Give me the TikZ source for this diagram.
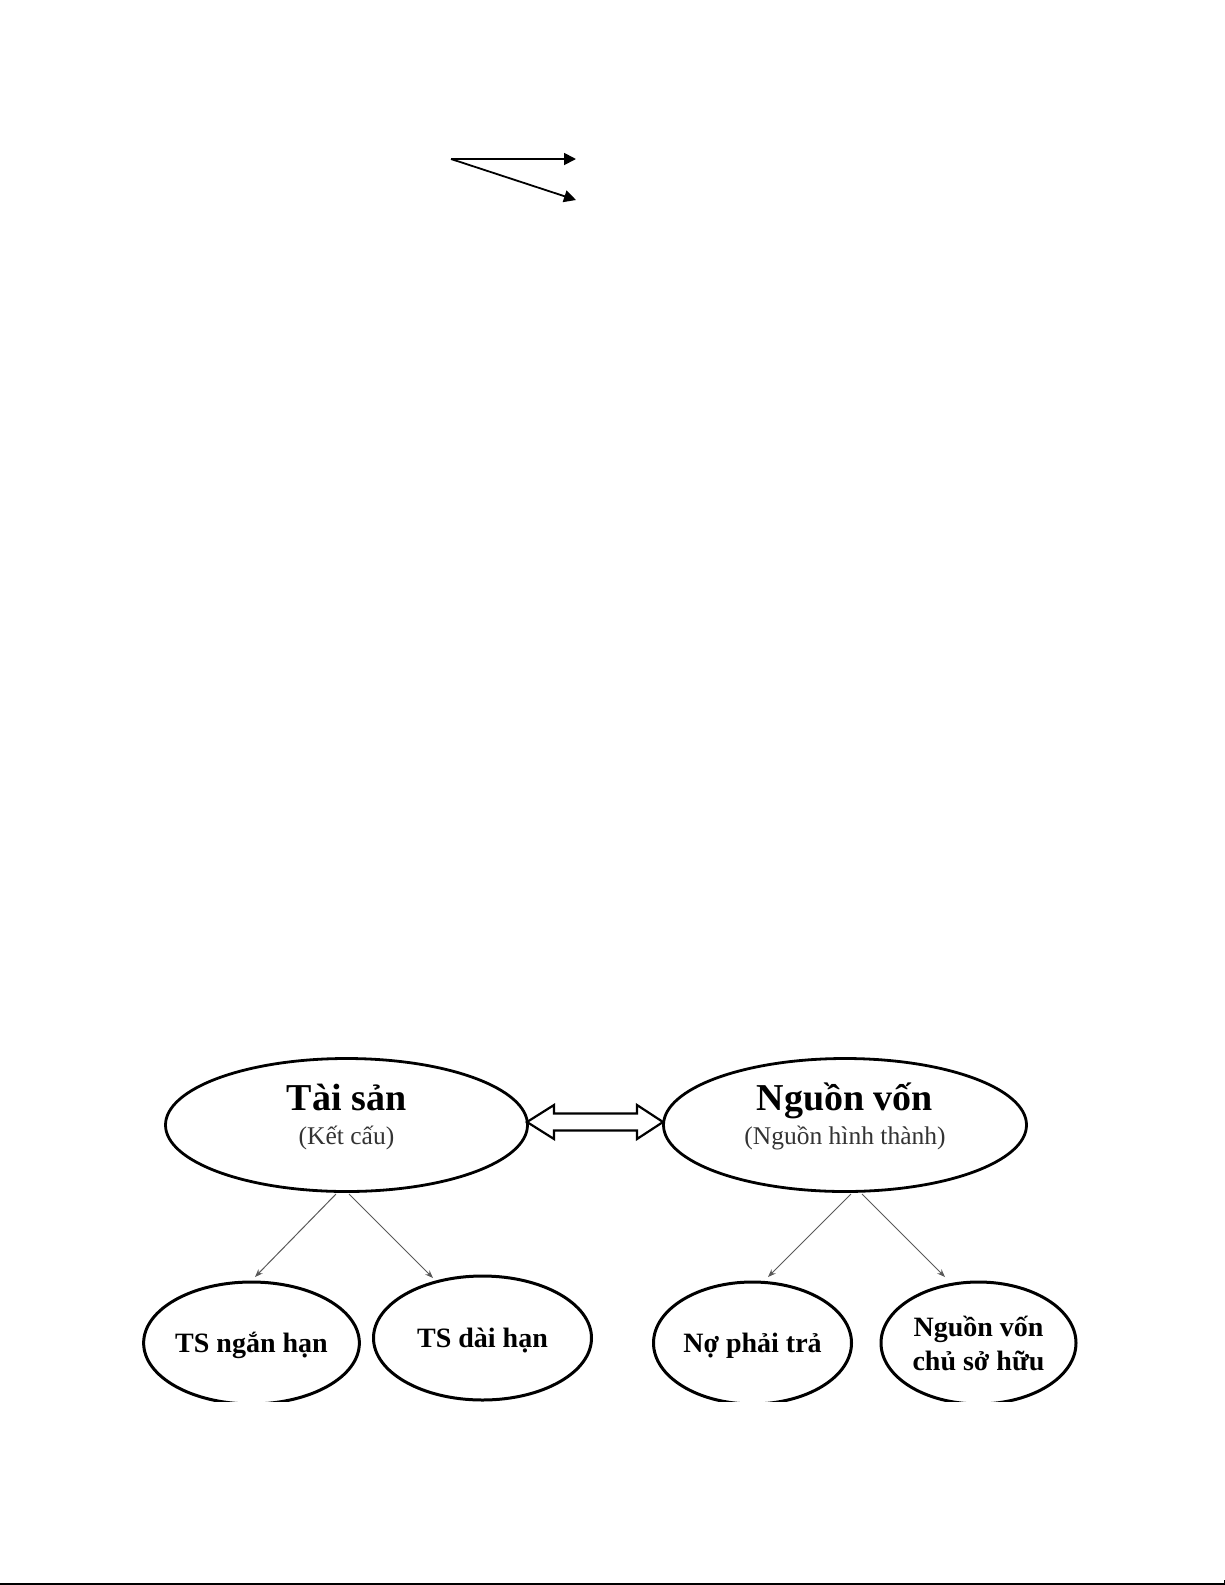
\documentclass[tikz,border=0pt]{standalone}
\usepackage{fontspec}
\setmainfont{Liberation Serif}
\usetikzlibrary{arrows.meta,shapes.geometric,calc}
\begin{document}
\begin{tikzpicture}[x=1pt,y=-1pt,
  bigell/.style={ellipse,draw,line width=2.8pt,inner sep=0pt,align=center,
    font=\fontsize{38}{34}\selectfont\bfseries,text height=45pt,text depth=6pt},
  smallell/.style={ellipse,draw,line width=3pt,inner sep=0pt,align=center,
    font=\fontsize{28}{34}\selectfont\bfseries},
  oneline/.style={text height=24pt,text depth=6pt},
  conn/.style={draw=black!65,line width=1pt,-{Stealth[length=8pt,width=6pt]}},
  toparrow/.style={line width=1.8pt,-{Triangle[length=12pt,width=12pt]}},
  dblarrow/.style={draw,line width=2.2pt,line join=miter,fill=white},
]
\useasboundingbox (0,0) rectangle (1225,1585);
% top arrows
\coordinate (o) at (451,159);
\coordinate (t1) at (576,159);
\coordinate (t2) at (576,200);
\draw[toparrow] (o) -- (t1);
\draw[toparrow] (o) -- (t2);
% big ellipses
\newcommand{\subfnt}{\fontsize{25.5}{34}\selectfont\mdseries\color{black!80}}
\node[bigell,minimum width=362pt,minimum height=133pt] (ts) at (346.5,1125)
  {Tài sản\\{\subfnt (Kết cấu)}};
\node[bigell,minimum width=363pt,minimum height=133pt] (nv) at (845,1125)
  {Nguồn vốn\\{\subfnt (Nguồn hình thành)}};
% double arrow
\draw[dblarrow] (527,1122) -- (554,1105) -- (554,1113.5) -- (637,1113.5) -- (637,1105)
  -- (663,1122) -- (637,1139) -- (637,1130.5) -- (554,1130.5) -- (554,1139) -- cycle;
% small ellipses (clipped at the bottom)
\begin{scope}
\clip (0,0) rectangle (1225,1401);
\node[smallell,oneline,minimum width=210pt,minimum height=122pt] (tsn) at (251.5,1343) {TS ngắn hạn};
\node[smallell,oneline,minimum width=218pt,minimum height=124pt] (tsd) at (482.5,1338) {TS dài hạn};
\node[smallell,oneline,minimum width=198pt,minimum height=122pt] (npt) at (752.5,1343) {Nợ phải trả};
\node[smallell,minimum width=195pt,minimum height=122pt] (csh) at (978.5,1343) {Nguồn vốn\\chủ sở hữu};
\end{scope}
% connectors
\draw[conn] ($(ts.center)+(-10.5,69)$) -- ($(tsn.center)+(3.5,-66)$);
\draw[conn] ($(ts.center)+(2.5,69)$) -- ($(tsd.center)+(-49.5,-60)$);
\draw[conn] ($(nv.center)+(6,69)$) -- ($(npt.center)+(15.5,-66)$);
\draw[conn] ($(nv.center)+(17,69)$) -- ($(csh.center)+(-33.5,-66)$);
% bottom rule
\draw[line width=2pt] (0,1583.5) -- (1225,1583.5);
\draw[line width=1pt] (1224.5,1580) -- (1224.5,1584);
\end{tikzpicture}
\end{document}
